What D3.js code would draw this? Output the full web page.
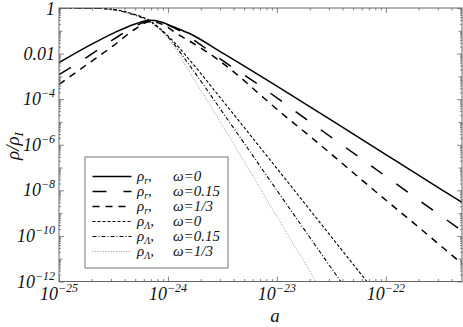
<!DOCTYPE html>
<html><head><meta charset="utf-8">
<script src="https://cdn.jsdelivr.net/npm/d3@7"></script>
<style>body{margin:0;background:#fff} svg{display:block}</style>
</head><body><svg id="c" width="463" height="327"></svg>
<script>
// ---- data ----
const aR0 = [1e-25,1.78e-25,3.16e-25,5.01e-25,6.76e-25,8.51e-25,1.12e-24,1.58e-24,3.16e-24,1e-23,3.16e-23,1e-22,3.16e-22,5.01e-22];
const rhoR0 = [3.98e-3,1.91e-2,7.94e-2,0.200,0.288,0.251,0.151,0.0759,1.07e-2,3.72e-4,1.20e-5,3.72e-7,1.17e-8,2.95e-9];

const aR15 = [1e-25,1.78e-25,3.16e-25,5.01e-25,6.76e-25,8.51e-25,1.26e-24,2.0e-24,3.16e-24,6.84e-24,1.88e-23,6.31e-23,1.88e-22,5.01e-22];
const rhoR15 = [1.20e-3,6.61e-3,4.17e-2,0.158,0.269,0.229,0.105,0.0240,5.01e-3,4.17e-4,1.26e-5,2.0e-7,4.68e-9,1.66e-10];

const aR13 = [1e-25,1.78e-25,3.16e-25,5.01e-25,6.76e-25,8.51e-25,1.26e-24,2.0e-24,4.07e-24,6.84e-24,1.12e-23,2.0e-23,7.59e-23,2.0e-22,5.01e-22];
const rhoR13 = [4.47e-4,3.16e-3,2.24e-2,0.120,0.251,0.209,0.0661,0.0178,1.51e-3,1.74e-4,2.29e-5,2.40e-6,1.12e-8,2.40e-10,6.03e-12];

const aL0 = [1e-25,2.0e-25,3.16e-25,4.47e-25,6.76e-25,1e-24,1.58e-24,3.16e-24,1e-23,3.16e-23,6.70e-23,7.94e-23];
const rhoL0 = [1,0.977,0.871,0.603,0.282,0.0603,5.25e-3,8.91e-5,9.12e-8,9.12e-11,1e-12,3.63e-13];

const aL15 = [1e-25,2.0e-25,3.16e-25,4.47e-25,6.76e-25,1e-24,1.58e-24,3.16e-24,1e-23,3.86e-23,4.47e-23];
const rhoL15 = [1,0.977,0.851,0.575,0.263,0.0537,3.02e-3,2.75e-5,1e-8,1e-12,3.72e-13];

const aL13 = [1e-25,2.0e-25,3.16e-25,4.47e-25,6.76e-25,1e-24,1.58e-24,3.16e-24,1e-23,2.28e-23,2.63e-23];
const rhoL13 = [1,0.977,0.832,0.550,0.245,0.0479,1.51e-3,7.08e-6,7.08e-10,1e-12,3.16e-13];

const xTickExps = [-25,-24,-23,-22];
const yTickLabels = [["1",null],["0.01",null],["10","-4"],["10","-6"],["10","-8"],["10","-10"],["10","-12"]];
const yTickValues = [1,1e-2,1e-4,1e-6,1e-8,1e-10,1e-12];
const legendNames = [["r","0"],["r","0.15"],["r","1/3"],["Λ","0"],["Λ","0.15"],["Λ","1/3"]];

// ---- layout ----
const L=59, R=462, T=8, B=281.5;
const svg = d3.select("#c");
const x = d3.scaleLog().domain([1e-25,5e-22]).range([L,R]);
const y = d3.scaleLog().domain([1e-12,1]).range([B,T]);
const frameCol = "#666";
const serif = "'Liberation Serif','Times New Roman','DejaVu Serif',serif";

const styles = [
  {stroke:"#000", w:1.5, dash:null},
  {stroke:"#000", w:1.5, dash:"14,17"},
  {stroke:"#000", w:1.5, dash:"7,6"},
  {stroke:"#000", w:1.1, dash:"3,2"},
  {stroke:"#000", w:1.1, dash:"4,2,1,2"},
  {stroke:"#888", w:0.9, dash:"1,1.6"}
];
const series = [[aR0,rhoR0],[aR15,rhoR15],[aR13,rhoR13],[aL0,rhoL0],[aL15,rhoL15],[aL13,rhoL13]];

svg.append("clipPath").attr("id","clip").append("rect").attr("x",L).attr("y",T).attr("width",R-L).attr("height",B-T);

const line = d3.line().x(d=>x(d[0])).y(d=>y(d[1])).curve(d3.curveMonotoneX);
const g = svg.append("g").attr("clip-path","url(#clip)");
[5,4,3,2,1,0].forEach(i=>{
  const [a,r]=series[i];
  const pts=a.map((v,k)=>[v,r[k]]);
  g.append("path").attr("d",line(pts)).attr("fill","none")
   .attr("stroke",styles[i].stroke).attr("stroke-width",styles[i].w)
   .attr("stroke-dasharray",styles[i].dash);
});

// ---- axes (ticks inward) ----
const xMajor = xTickExps.map(e=>Math.pow(10,e));
const xMinor = [];
for (let e=-25;e<=-22;e++) for (let m=2;m<=9;m++){const v=m*Math.pow(10,e); if(v<=5e-22) xMinor.push(v);}
const yMajor = yTickValues;
const yMid=[], yMinor=[];
for (let e=-12;e<=0;e++){ if(e%2!==0) yMid.push(Math.pow(10,e)); }
for (let e=-12;e<0;e++) for (let m=2;m<=9;m++) yMinor.push(m*Math.pow(10,e));

function ax(gen, vals, size, tr){
  const a = svg.append("g").attr("transform",tr)
   .call(gen.tickValues(vals).tickSize(size).tickFormat(""));
  a.select(".domain").remove();
  a.selectAll("line").attr("stroke",frameCol).attr("stroke-width",0.8);
}
ax(d3.axisBottom(x), xMajor, -5, `translate(0,${B})`);
ax(d3.axisBottom(x), xMinor, -2.5, `translate(0,${B})`);
ax(d3.axisTop(x), xMajor, -5, `translate(0,${T})`);
ax(d3.axisTop(x), xMinor, -2.5, `translate(0,${T})`);
ax(d3.axisLeft(y), yMajor, -5, `translate(${L},0)`);
ax(d3.axisLeft(y), yMid, -3.5, `translate(${L},0)`);
ax(d3.axisLeft(y), yMinor, -2, `translate(${L},0)`);
ax(d3.axisRight(y), yMajor, -5, `translate(${R},0)`);
ax(d3.axisRight(y), yMid, -3.5, `translate(${R},0)`);
ax(d3.axisRight(y), yMinor, -2, `translate(${R},0)`);

svg.append("rect").attr("x",L).attr("y",T).attr("width",R-L).attr("height",B-T)
  .attr("fill","none").attr("stroke",frameCol).attr("stroke-width",1);

// tick labels
xMajor.forEach((v,i)=>{
  const t = svg.append("text").attr("x",x(v)).attr("y",300).attr("text-anchor","middle")
   .attr("font-family",serif).attr("font-style","italic").attr("font-size",18).attr("fill","#111");
  t.append("tspan").text("10");
  t.append("tspan").attr("dy",-8).attr("font-size",12).text("−"+String(-xTickExps[i]));
});
yTickValues.forEach((v,i)=>{
  const [base,exp]=yTickLabels[i];
  const t = svg.append("text").attr("x",55).attr("y",Math.max(y(v)+6,15)).attr("text-anchor","end")
   .attr("font-family",serif).attr("font-style","italic").attr("font-size",18).attr("fill","#111");
  t.append("tspan").text(base);
  if(exp) t.append("tspan").attr("dy",-8).attr("font-size",12).text(exp.replace("-","−"));
});

// axis titles
svg.append("text").attr("x",275).attr("y",322).attr("text-anchor","middle")
  .attr("font-family",serif).attr("font-style","italic").attr("font-size",19).attr("fill","#111").text("a");
const yl = svg.append("text").attr("transform","translate(19,146) rotate(-90)").attr("text-anchor","middle")
  .attr("font-family",serif).attr("font-style","italic").attr("font-size",19).attr("fill","#111");
yl.append("tspan").text("ρ/ρ");
yl.append("tspan").attr("dy",4).attr("font-size",13).text("I");

// legend
const lg = svg.append("g");
lg.append("rect").attr("x",85).attr("y",157).attr("width",143).attr("height",111)
  .attr("fill","#fff").attr("stroke","#777").attr("stroke-width",1);
legendNames.forEach((n,i)=>{
  const yy = 176.5 + i*15;
  lg.append("line").attr("x1",92.5).attr("x2",131.5).attr("y1",yy).attr("y2",yy)
   .attr("stroke",styles[i].stroke).attr("stroke-width",styles[i].w).attr("stroke-dasharray",styles[i].dash);
  const t = lg.append("text").attr("x",137).attr("y",yy+4.5)
   .attr("font-family",serif).attr("font-style","italic").attr("font-size",15).attr("fill","#111");
  t.append("tspan").text("ρ");
  t.append("tspan").attr("dy",2.5).attr("font-size",10).text(n[0]);
  t.append("tspan").attr("dy",-2.5).text(",");
  t.append("tspan").attr("x",173).text("ω="+n[1]);
});
</script></body></html>
